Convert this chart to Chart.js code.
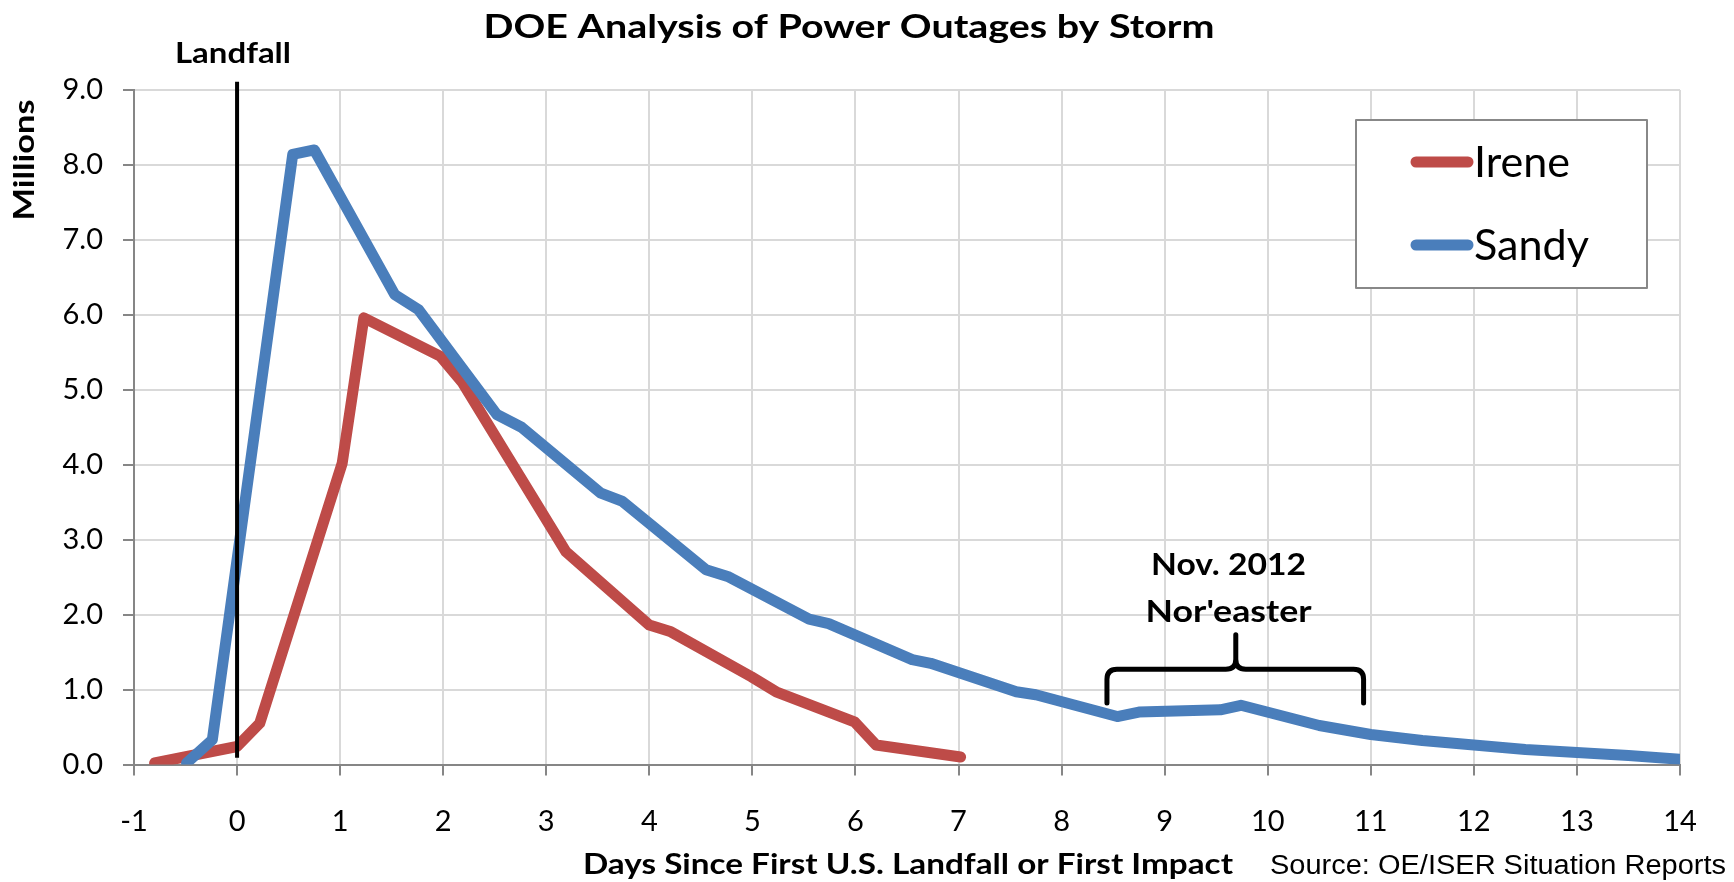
<!DOCTYPE html>
<html>
<head>
<meta charset="utf-8">
<script src="https://cdn.jsdelivr.net/npm/chart.js@4"></script>
<style>
  html, body { margin: 0; padding: 0; background: #fff; }
  #wrap { width: 1734px; height: 882px; }
</style>
</head>
<body>
<div id="wrap"><canvas id="outages" width="1734" height="882"></canvas></div>
<script>
'use strict';

// days since first landfall / outages in millions
var ireneDays = [-0.80, 0.00, 0.22, 1.02, 1.23, 1.97, 2.19, 3.19, 4.00, 4.21, 4.99, 5.23, 5.99, 6.20, 7.02];
var ireneOutages = [0.02, 0.24, 0.55, 4.02, 5.96, 5.45, 5.09, 2.84, 1.86, 1.77, 1.17, 0.97, 0.57, 0.26, 0.10];

var sandyDays = [-0.49, -0.24, 0.54, 0.75, 1.53, 1.76, 2.52, 2.76, 3.53, 3.74, 4.55, 4.76, 5.55, 5.74,
    6.55, 6.73, 7.56, 7.75, 8.54, 8.75, 9.54, 9.74, 10.5, 11.0, 11.5, 12.0, 12.5, 13.0, 13.5, 14.0];
var sandyOutages = [0.02, 0.33, 8.14, 8.20, 6.27, 6.07, 4.67, 4.50, 3.62, 3.51, 2.60, 2.51, 1.94, 1.88,
    1.40, 1.35, 0.97, 0.93, 0.64, 0.70, 0.73, 0.79, 0.52, 0.40, 0.32, 0.26, 0.20, 0.16, 0.12, 0.07];

var seriesNames = ['Irene', 'Sandy'];
var seriesColors = ['#BE4B48', '#4A7EBB'];

// landfall marker and the nor'easter brace, in data units
var landfallDays = [0, 0];
var landfallLevels = [0.09, 9.11];
var braceDays = [8.44, 9.69, 10.93];       // left, cusp, right
var braceLevels = [0.82, 1.27, 1.73];      // ends, bar, cusp
var noteLines = ["Nov. 2012", "Nor'easter"];
var noteDay = 9.62;
var noteLevels = [2.66, 2.03];

var xMin = -1, xMax = 14;
var yMin = 0, yMax = 9;

var FONT = 'Lato, "Open Sans", sans-serif';

function toPoints(xs, ys) {
    var pts = [];
    for (var i = 0; i < xs.length; i++) {
        pts.push({ x: xs[i], y: ys[i] });
    }
    return pts;
}

// draw text squeezed/stretched to a given width (the original font is Calibri)
function fitText(ctx, text, x, y, width, font, align) {
    ctx.save();
    ctx.font = font;
    ctx.textAlign = align || 'center';
    var w = ctx.measureText(text).width;
    ctx.translate(x, y);
    ctx.scale(width / w, 1);
    ctx.fillText(text, 0, 0);
    ctx.restore();
}

var decorations = {
    id: 'decorations',
    afterDraw: function(chart) {
        var ctx = chart.ctx;
        var xs = chart.scales.x;
        var ys = chart.scales.y;
        ctx.save();
        ctx.fillStyle = '#000';
        ctx.textBaseline = 'middle';

        fitText(ctx, 'DOE Analysis of Power Outages by Storm', 849, 27, 731, 'bold 33px ' + FONT);
        fitText(ctx, 'Landfall', 233, 54, 116, 'bold 29px ' + FONT);

        // y axis title, near the top
        ctx.save();
        ctx.translate(25, 160);
        ctx.rotate(-Math.PI / 2);
        fitText(ctx, 'Millions', 0, 0, 121, 'bold 29px ' + FONT);
        ctx.restore();

        fitText(ctx, 'Days Since First U.S. Landfall or First Impact', 908, 865, 650, 'bold 28px ' + FONT);
        fitText(ctx, 'Source: OE/ISER Situation Reports', 1270, 867, 456, '27px "Liberation Sans", Arial, sans-serif', 'left');

        // nor'easter note
        var noteWidths = [155, 166];
        for (var i = 0; i < noteLines.length; i++) {
            fitText(ctx, noteLines[i], xs.getPixelForValue(noteDay), ys.getPixelForValue(noteLevels[i]),
                noteWidths[i], 'bold 30px ' + FONT);
        }

        // brace
        var xl = xs.getPixelForValue(braceDays[0]);
        var xm = xs.getPixelForValue(braceDays[1]);
        var xr = xs.getPixelForValue(braceDays[2]);
        var yEnd = ys.getPixelForValue(braceLevels[0]);
        var yBar = ys.getPixelForValue(braceLevels[1]);
        var yCusp = ys.getPixelForValue(braceLevels[2]);
        var r = 10;
        ctx.strokeStyle = '#000';
        ctx.lineWidth = 5;
        ctx.lineCap = 'round';
        ctx.lineJoin = 'round';
        ctx.beginPath();
        ctx.moveTo(xl, yEnd);
        ctx.lineTo(xl, yBar + r);
        ctx.quadraticCurveTo(xl, yBar, xl + r, yBar);
        ctx.lineTo(xm - r, yBar);
        ctx.quadraticCurveTo(xm, yBar, xm, yBar - r);
        ctx.lineTo(xm, yCusp);
        ctx.moveTo(xm, yBar - r);
        ctx.quadraticCurveTo(xm, yBar, xm + r, yBar);
        ctx.lineTo(xr - r, yBar);
        ctx.quadraticCurveTo(xr, yBar, xr, yBar + r);
        ctx.lineTo(xr, yEnd);
        ctx.stroke();

        // legend box
        ctx.fillStyle = '#fff';
        ctx.fillRect(1356, 120, 291, 168);
        ctx.strokeStyle = '#888';
        ctx.lineWidth = 2;
        ctx.strokeRect(1356, 120, 291, 168);
        var rows = [162, 245];
        var labelWidths = [96, 115];
        ctx.lineWidth = 11;
        for (var j = 0; j < rows.length; j++) {
            var ds = chart.data.datasets[j];
            ctx.strokeStyle = ds.borderColor;
            ctx.beginPath();
            ctx.moveTo(1416, rows[j]);
            ctx.lineTo(1468, rows[j]);
            ctx.stroke();
            ctx.fillStyle = '#000';
            fitText(ctx, ds.label, 1474, rows[j] + 1, labelWidths[j], '42px ' + FONT, 'left');
        }
        ctx.restore();
    }
};

var ctx = document.getElementById('outages').getContext('2d');

var chart = new Chart(ctx, {
    type: 'line',
    data: {
        datasets: [{
            label: seriesNames[0],
            data: toPoints(ireneDays, ireneOutages),
            borderColor: seriesColors[0],
            backgroundColor: seriesColors[0],
            borderWidth: 11,
            pointRadius: 0,
            borderCapStyle: 'round',
            borderJoinStyle: 'round',
            tension: 0,
            order: 2
        }, {
            label: seriesNames[1],
            data: toPoints(sandyDays, sandyOutages),
            borderColor: seriesColors[1],
            backgroundColor: seriesColors[1],
            borderWidth: 11,
            pointRadius: 0,
            borderCapStyle: 'round',
            borderJoinStyle: 'round',
            tension: 0,
            order: 1
        }, {
            label: 'Landfall',
            data: toPoints(landfallDays, landfallLevels),
            borderColor: '#000',
            borderWidth: 4,
            pointRadius: 0,
            clip: false,
            order: 0
        }]
    },
    options: {
        responsive: false,
        animation: false,
        devicePixelRatio: 1,
        layout: { padding: { left: 0, right: 54, top: 90, bottom: 0 } },
        plugins: {
            legend: { display: false },
            title: { display: false },
            tooltip: { enabled: false }
        },
        scales: {
            x: {
                type: 'linear',
                min: xMin,
                max: xMax,
                afterFit: function(s) { s.height = 117.5; },
                ticks: {
                    stepSize: 1,
                    color: '#000',
                    padding: 29,
                    font: { family: FONT, size: 29 }
                },
                grid: {
                    color: '#D9D9D9',
                    lineWidth: 2,
                    tickColor: '#868686',
                    tickLength: 11
                },
                border: { color: '#868686', width: 2 }
            },
            y: {
                type: 'linear',
                min: yMin,
                max: yMax,
                afterFit: function(s) { s.width = 134; },
                ticks: {
                    stepSize: 1,
                    color: '#000',
                    padding: 20,
                    font: { family: FONT, size: 29 },
                    callback: function(v) { return v.toFixed(1); }
                },
                grid: {
                    color: '#D9D9D9',
                    lineWidth: 2,
                    tickColor: '#868686',
                    tickLength: 11
                },
                border: { color: '#868686', width: 2 }
            }
        }
    },
    plugins: [decorations]
});
</script>
</body>
</html>
